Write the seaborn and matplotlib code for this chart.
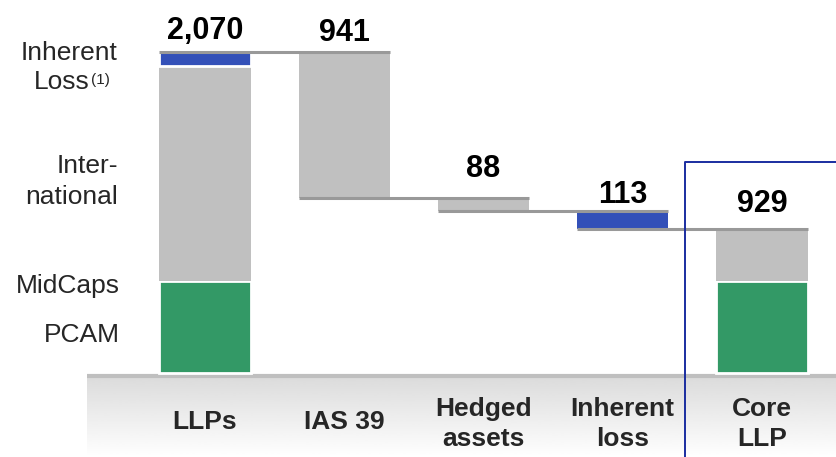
import numpy as np
import pandas as pd
import matplotlib
matplotlib.use("Agg")
import matplotlib.pyplot as plt
import seaborn as sns

# ---- data -------------------------------------------------------------
steps = ["LLPs", "IAS 39", "Hedged\nassets", "Inherent\nloss", "Core\nLLP"]
step_labels = ["2,070", "941", "88", "113", "929"]
llp_segments = ["PCAM", "MidCaps", "International", "Inherent Loss"]
llp_values = [590, 339, 1051, 90]          # sums to 2,070
deductions = [941, 88, 113]                 # IAS 39, hedged assets, inherent loss
core_segments = ["PCAM", "MidCaps"]
core_values = [590, 339]                    # sums to 929

# ---- style ------------------------------------------------------------
sns.set_theme(style="white")
plt.rcParams["font.family"] = ["Liberation Sans", "DejaVu Sans"]

GREEN = "#339966"
BLUE = "#3350B8"
GRAY = "#C0C0C0"
LINE = "#999999"
FRAME = "#1A2DA0"
seg_colors = {"PCAM": GREEN, "MidCaps": GRAY, "International": GRAY,
              "Inherent Loss": BLUE}

W, H = 837, 457
fig = plt.figure(figsize=(W / 100, H / 100), dpi=100)
ax = fig.add_axes([0, 0, 1, 1])

# pixel <-> data mapping of the canvas
X0, DX = 205.0, 139.25          # pixel centre of first step, step spacing
Y0, SY = 372.5, 0.1548          # pixel of zero line, pixels per unit
ax.set_xlim(-X0 / DX, (W - X0) / DX)
ax.set_ylim(-(H - Y0) / SY, Y0 / SY)
ax.axis("off")


def px(x):
    return (x - X0) / DX


def py(y):
    return (Y0 - y) / SY


BW = 0.655
pos = np.arange(len(steps))

# ---- build bar table --------------------------------------------------
rows = []
base = 0
for name, v in zip(llp_segments, llp_values):
    rows.append(dict(step=0, seg=name, bottom=base, height=v, color=seg_colors[name]))
    base += v
level = base
for i, d in enumerate(deductions, start=1):
    level -= d
    rows.append(dict(step=i, seg=steps[i], bottom=level, height=d,
                     color=BLUE if i == 3 else GRAY))
base = 0
for name, v in zip(core_segments, core_values):
    rows.append(dict(step=4, seg=name, bottom=base, height=v, color=seg_colors[name]))
    base += v
bars = pd.DataFrame(rows)

for _, r in bars.iterrows():
    white_edge = r.seg in ("PCAM", "Inherent Loss")
    ax.bar(r.step, r.height, bottom=r.bottom, width=BW, color=r.color,
           edgecolor="white" if white_edge else "none",
           linewidth=2.0 if white_edge else 0, zorder=3)

# ---- connectors -------------------------------------------------------
levels = [sum(llp_values)]
for d in deductions:
    levels.append(levels[-1] - d)
for i, lv in enumerate(levels):
    ax.plot([pos[i] - BW / 2, pos[i + 1] + BW / 2], [lv, lv],
            color=LINE, lw=2.2, solid_capstyle="butt", zorder=4)

# ---- value labels -----------------------------------------------------
label_y = [sum(llp_values), levels[0], levels[1], levels[2], sum(core_values)]
label_gap_px = [13, 11, 21, 8, 17]
for i, (txt, lv) in enumerate(zip(step_labels, label_y)):
    ax.annotate(txt, (pos[i], lv), xytext=(0, label_gap_px[i] * 0.72),
                textcoords="offset points", ha="center", va="baseline",
                fontsize=22, fontweight="bold", color="black", zorder=6)

# ---- category band ----------------------------------------------------
grad = np.linspace(0.86, 1.0, 256).reshape(-1, 1)
ax.imshow(grad, cmap="gray", vmin=0, vmax=1, aspect="auto",
          extent=[px(87), px(W), py(H), py(378)], zorder=1)
ax.plot([px(87), px(W)], [py(376), py(376)], color="#BFBFBF", lw=3,
        solid_capstyle="butt", zorder=2)
for i, s in enumerate(steps):
    lines = s.split("\n")
    baselines = [429] if len(lines) == 1 else [416, 446]
    for ln, b in zip(lines, baselines):
        ax.text(pos[i], py(b), ln, ha="center", va="baseline", fontsize=19,
                fontweight="bold", zorder=6)

# ---- frame around the result -----------------------------------------
ax.plot([px(685), px(685), px(W + 5)], [py(H + 5), py(162), py(162)],
        color=FRAME, lw=1.4, zorder=5)

# ---- segment legend on the left ---------------------------------------
side_lines = [("Inherent", 118, 60), ("Loss", 90, 89),
              ("Inter-", 118, 173), ("national", 118, 204),
              ("MidCaps", 120, 293), ("PCAM", 120, 342)]
for s, xr, b in side_lines:
    ax.text(px(xr), py(b), s, ha="right", va="baseline", fontsize=19, zorder=6)
ax.text(px(91), py(84), "(1)", ha="left", va="baseline", fontsize=11, zorder=6)

fig.savefig("out.png", dpi=100)
